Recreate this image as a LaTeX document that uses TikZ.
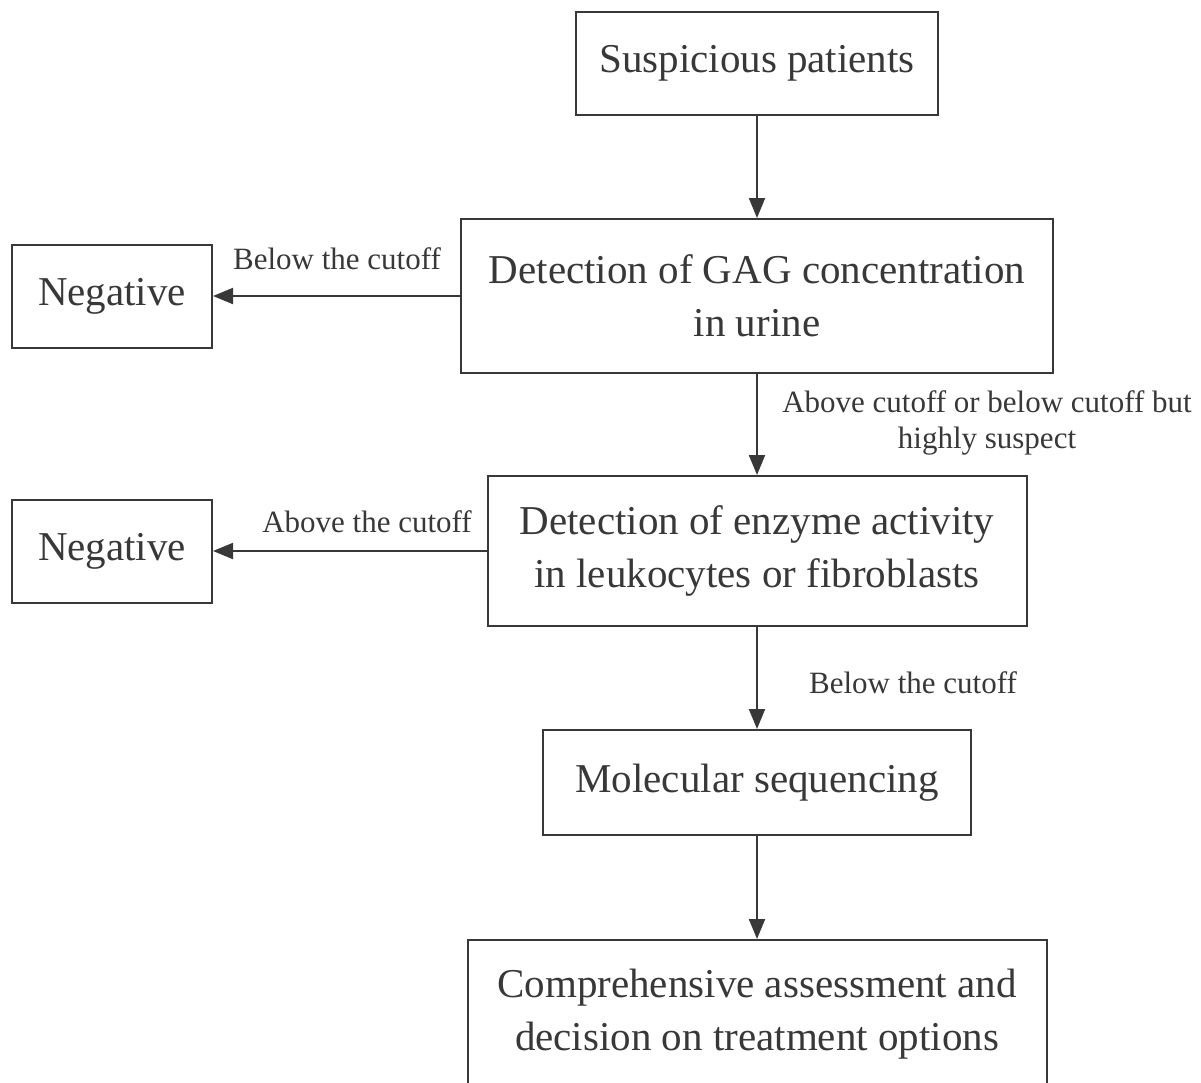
\documentclass[tikz,border=0pt]{standalone}
\usepackage{fontspec}
\setmainfont{Liberation Serif}
\usetikzlibrary{arrows.meta}
\definecolor{ink}{HTML}{383838}
\begin{document}
\begin{tikzpicture}
      [x=0.5pt,y=-0.5pt,
       box/.style={draw=ink,line width=1pt,text=ink,align=center,inner sep=0pt,
         font=\fontsize{20.5}{26.5}\selectfont},
       lbl/.style={text=ink,align=center,inner sep=0pt,
         font=\fontsize{15.5}{18}\selectfont},
       arr/.style={draw=ink,line width=1pt,-{Triangle[length=10pt,width=8pt]}}]
      \useasboundingbox (0,0) rectangle (1201,1083);
      % boxes
      \node[box,minimum width=181pt,minimum height=51.5pt] (sus) at (757,63.5) {Suspicious patients};
      \node[box,minimum width=296pt,minimum height=77pt] (gag) at (757,296) {Detection of GAG concentration\\in urine};
      \node[box,minimum width=100pt,minimum height=51.5pt] (neg1) at (112,296) {Negative};
      \node[box,minimum width=269.5pt,minimum height=75pt] (enz) at (757,551) {Detection of enzyme activity\\in leukocytes or fibroblasts};
      \node[box,minimum width=100pt,minimum height=51.5pt] (neg2) at (112,551) {Negative};
      \node[box,minimum width=214pt,minimum height=52.5pt] (seq) at (757,782.5) {Molecular sequencing};
      \node[box,minimum width=289.5pt,minimum height=74pt] (ass) at (757,1014) {Comprehensive assessment and\\decision on treatment options};
      % connectors
      \draw[arr] (sus) -- (gag);
      \draw[arr] (gag) -- (neg1);
      \draw[arr] (gag) -- (enz);
      \draw[arr] (enz) -- (neg2);
      \draw[arr] (enz) -- (seq);
      \draw[arr] (seq) -- (ass);
      % labels
      \node[lbl] (l1) at (337,259) {Below the cutoff};
      \node[lbl] (l2) at (987,423) {Above cutoff or below cutoff but\\highly suspect};
      \node[lbl] (l3) at (367,522) {Above the cutoff};
      \node[lbl] (l4) at (913,683) {Below the cutoff};
    \end{tikzpicture}
\end{document}
